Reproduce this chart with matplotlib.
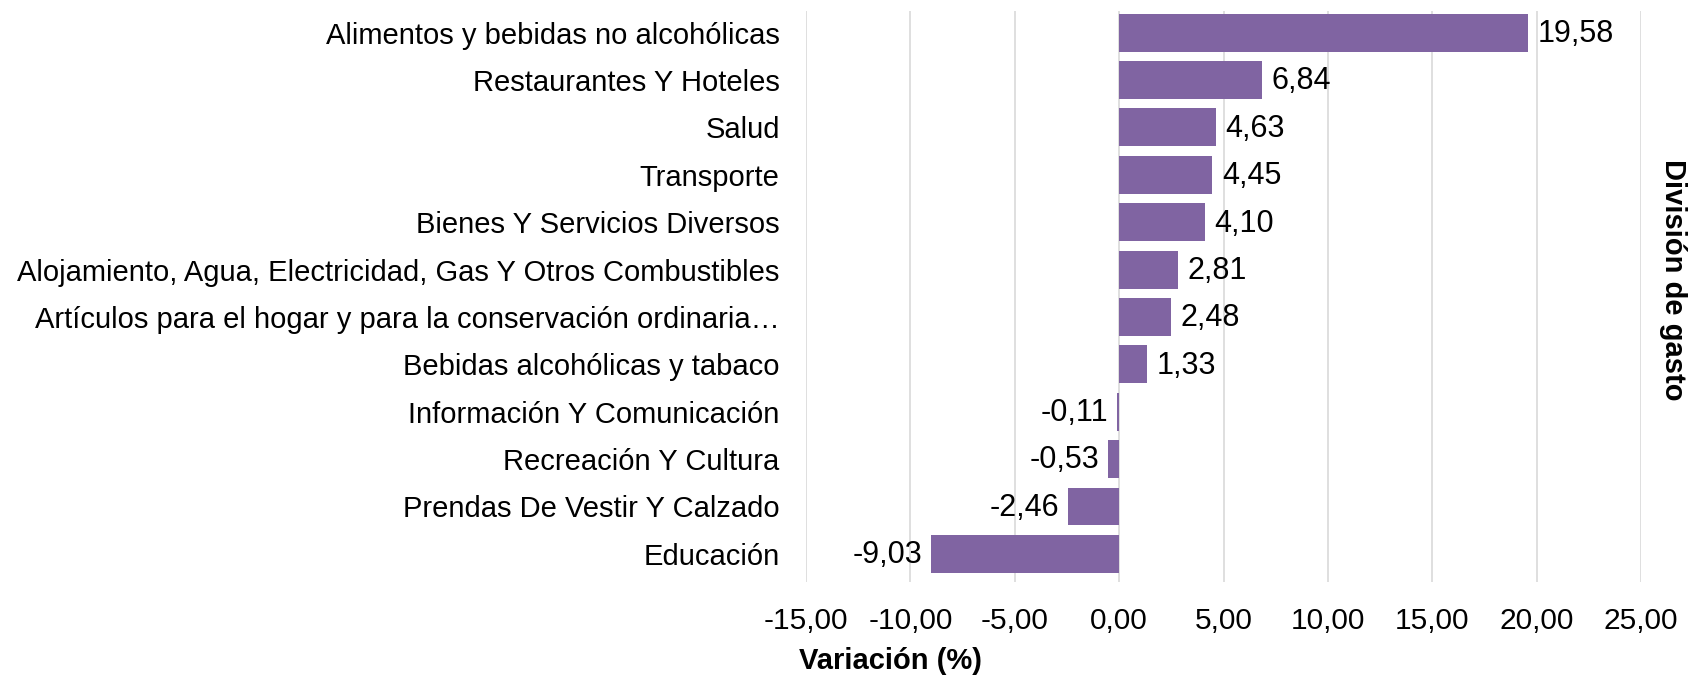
import matplotlib.pyplot as plt
from matplotlib.ticker import FuncFormatter, MultipleLocator
import numpy as np

plt.rcParams['font.family'] = ['Liberation Sans', 'DejaVu Sans']

categorias = [
    "Alimentos y bebidas no alcohólicas",
    "Restaurantes Y Hoteles",
    "Salud",
    "Transporte",
    "Bienes Y Servicios Diversos",
    "Alojamiento, Agua, Electricidad, Gas Y Otros Combustibles",
    "Artículos para el hogar y para la conservación ordinaria…",
    "Bebidas alcohólicas y tabaco",
    "Información Y Comunicación",
    "Recreación Y Cultura",
    "Prendas De Vestir Y Calzado",
    "Educación",
]
variacion = [19.58, 6.84, 4.63, 4.45, 4.10, 2.81, 2.48, 1.33, -0.11, -0.53, -2.46, -9.03]

def coma(v, pos=None):
    return f"{v:.2f}".replace(".", ",")

fig = plt.figure(figsize=(16.9, 6.75), dpi=100)
ax = fig.add_axes([0.477, 0.138, 0.494, 0.846])

y = np.arange(len(categorias))
ax.barh(y, variacion, height=0.8, color="#8064A2", zorder=3)

# etiquetas de datos
for yi, v in zip(y, variacion):
    if v >= 0:
        ax.annotate(coma(v), (v, yi), xytext=(7, -1), textcoords="offset points",
                    ha="left", va="center", fontsize=22)
    else:
        ax.annotate(coma(v), (v, yi), xytext=(-6, -1), textcoords="offset points",
                    ha="right", va="center", fontsize=22)

ax.set_xlim(-15, 25)
ax.set_ylim(len(categorias) - 0.41, -0.46)
ax.xaxis.set_major_locator(MultipleLocator(5))
ax.xaxis.set_major_formatter(FuncFormatter(coma))
ax.set_yticks(y)
ax.set_yticklabels(categorias, fontsize=21)
ax.tick_params(axis="both", length=0)
ax.tick_params(axis="x", labelsize=21.5, pad=18)
ax.tick_params(axis="y", pad=19)
ax.grid(axis="x", color="#D9D9D9", linewidth=1.2, zorder=0)
for s in ax.spines.values():
    s.set_visible(False)

fig.text(0.527, 0.021, "Variación (%)", fontsize=21, fontweight="bold", ha="center", va="center")
fig.text(0.99, 0.585, "División de gasto", fontsize=21, fontweight="bold", rotation=-90,
         ha="center", va="center")

fig.savefig("out.png", dpi=100)
